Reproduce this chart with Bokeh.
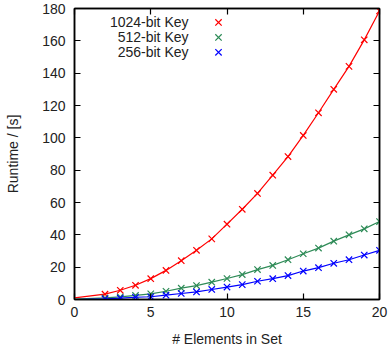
from bokeh.plotting import figure
from bokeh.models import Range1d, LinearAxis, FixedTicker, CustomJSTickFormatter
from bokeh.core.properties import value
from bokeh.embed import file_html
from bokeh.resources import INLINE

# ---- data ----
elements = [2, 3, 4, 5, 6, 7, 8, 9, 10, 11, 12, 13, 14, 15, 16, 17, 18, 19, 20]
runtime_1024 = [3.3, 5.7, 8.8, 12.9, 18.0, 24.0, 30.4, 37.5, 46.6, 55.8, 65.6,
                76.9, 88.4, 101.5, 115.5, 130.0, 144.2, 160.6, 178.5]
runtime_512 = [1.0, 1.6, 2.5, 3.5, 5.1, 7.0, 8.6, 10.7, 13.0, 15.4, 18.5,
               21.1, 24.6, 28.3, 31.8, 36.1, 40.0, 43.7, 48.2]
runtime_256 = [0.4, 0.8, 1.4, 1.7, 2.7, 3.7, 4.7, 6.2, 7.7, 9.2, 11.3,
               12.9, 14.8, 17.6, 19.7, 22.4, 24.6, 27.5, 30.4]
# value of each fitted curve at 0 elements
fit_start_x = 0
fit_start = {"1024": 1.0, "512": 0.2, "256": 0.0}
series_labels = ["1024-bit Key", "512-bit Key", "256-bit Key"]
x_ticks = [0, 5, 10, 15, 20]
y_ticks = [0, 20, 40, 60, 80, 100, 120, 140, 160, 180]

colors = ["#ff0000", "#2e8b57", "#0000ff"]
FONT = "Liberation Sans"
FS = "14px"

# frame geometry (pixels)
FL, FR, FT, FB = 74, 379, 8, 300

p = figure(width=388, height=349, output_backend="svg", toolbar_location=None,
           x_range=Range1d(0, 20), y_range=Range1d(0, 180),
           min_border_left=FL, min_border_right=388 - FR, min_border_top=FT,
           min_border_bottom=349 - FB)
p.background_fill_color = "white"
p.border_fill_color = "white"
p.outline_line_color = "black"
p.outline_line_width = 1.5
p.xgrid.visible = False
p.ygrid.visible = False

def style_axis(ax):
    ax.major_tick_in = 6
    ax.major_tick_out = 0
    ax.minor_tick_in = 0
    ax.minor_tick_out = 0
    ax.axis_line_color = "black"
    ax.axis_line_width = 1.5
    ax.major_tick_line_color = "black"
    ax.major_tick_line_width = 1.2
    ax.major_label_text_font = FONT
    ax.major_label_text_font_size = FS
    ax.major_label_text_color = "#222222"
    ax.axis_label_text_font = FONT
    ax.axis_label_text_font_size = FS
    ax.axis_label_text_font_style = "normal"
    ax.axis_label_text_color = "#222222"

p.xaxis.ticker = FixedTicker(ticks=x_ticks)
p.yaxis.ticker = FixedTicker(ticks=y_ticks)
p.xaxis.axis_label = "# Elements in Set"
p.yaxis.axis_label = "Runtime / [s]"
style_axis(p.xaxis[0])
style_axis(p.yaxis[0])
p.xaxis.major_label_standoff = 7
p.yaxis.major_label_standoff = 9
p.xaxis.axis_label_standoff = 11
p.yaxis.axis_label_standoff = 18

blank = CustomJSTickFormatter(code="return ''")
top = LinearAxis(ticker=FixedTicker(ticks=x_ticks), formatter=blank)
right = LinearAxis(ticker=FixedTicker(ticks=y_ticks), formatter=blank)
style_axis(top)
style_axis(right)
p.add_layout(top, "above")
p.add_layout(right, "right")

series = [runtime_1024, runtime_512, runtime_256]
keys = ["1024", "512", "256"]
for vals, key, col in zip(series, keys, colors):
    p.line([fit_start_x] + elements, [fit_start[key]] + vals, line_color=col, line_width=1.2)
    p.scatter(elements, vals, marker="x", size=9, line_color=col, line_width=1.2)

# gnuplot-style key: text right-aligned, sample to the right
def px_to_x(px):
    return (px - FL) / (FR - FL) * 20

def px_to_y(py):
    return (FB - py) / (FB - FT) * 180

key_text_right = px_to_x(188)
key_sample_x = px_to_x(218)
key_rows = [px_to_y(r) for r in (22, 37, 52)]
p.text([key_text_right] * 3, key_rows, text=series_labels,
       text_font=value(FONT), text_font_size=FS, text_color="#222222",
       text_align="right", text_baseline="middle")
for col, yv in zip(colors, key_rows):
    p.scatter([key_sample_x], [yv], marker="x", size=9, line_color=col, line_width=1.2)

open("out.html", "w").write(file_html(p, INLINE))
